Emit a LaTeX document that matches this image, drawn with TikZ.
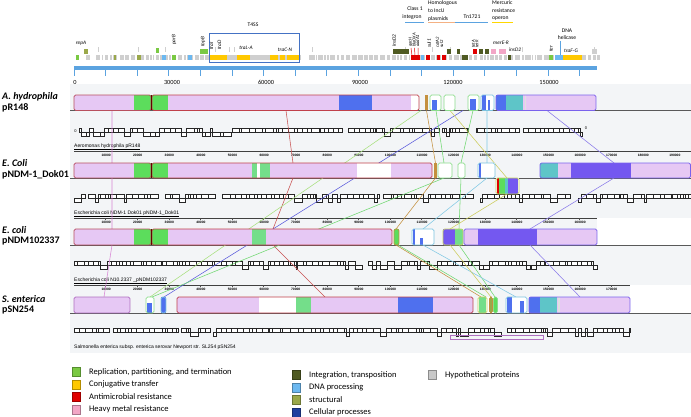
\documentclass[tikz,border=0pt]{standalone}
\usepackage{fontspec}
\setmainfont{Carlito}
\newfontfamily\libsans{Liberation Sans}
\definecolor{panelbg}{HTML}{F3F5F7}
\definecolor{lcbpink}{HTML}{E6C8F4}
\definecolor{lcbgreen}{HTML}{5CDD5C}
\definecolor{lcbgreenL}{HTML}{74DE8A}
\definecolor{lcbblue}{HTML}{4F70EE}
\definecolor{lcbpurple}{HTML}{7458F0}
\definecolor{lcbteal}{HTML}{5EC5C8}
\definecolor{lcbbrown}{HTML}{C4903E}
\definecolor{brdred}{HTML}{C0404A}
\definecolor{brdA}{HTML}{B8505E}
\definecolor{brdgreen}{HTML}{8CDC8C}
\definecolor{brdcyan}{HTML}{7CC4E0}
\definecolor{brdpurple}{HTML}{7A62EC}
\definecolor{brdyg}{HTML}{C8D060}
\definecolor{brdmag}{HTML}{B070C0}
\definecolor{lnmag}{HTML}{D884D4}
\definecolor{lnred}{HTML}{C85050}
\definecolor{lnpurple}{HTML}{8A7AEA}
\definecolor{lnblue}{HTML}{5A5ADC}
\definecolor{lnlgreen}{HTML}{A8E07E}
\definecolor{lngreen}{HTML}{70D870}
\definecolor{lncyan}{HTML}{80C8E4}
\definecolor{lnyg}{HTML}{CCCC5A}
\definecolor{lnbrown}{HTML}{C4903E}
\definecolor{axblue}{HTML}{5BA3E0}
\definecolor{boxblue}{HTML}{4472C4}
\definecolor{lgGreen}{HTML}{7AC943}
\definecolor{lgYellow}{HTML}{FFC800}
\definecolor{lgRed}{HTML}{E00000}
\definecolor{lgPink}{HTML}{F2A6C6}
\definecolor{lgDark}{HTML}{4F5A22}
\definecolor{lgLblue}{HTML}{6CB8F0}
\definecolor{lgOlive}{HTML}{9AA84A}
\definecolor{lgNavy}{HTML}{1F3F9F}
\definecolor{lgGray}{HTML}{C8C8C8}
\definecolor{mapgray}{HTML}{CFCFCF}
\definecolor{lnorange}{HTML}{F4B183}
\definecolor{lnyellow}{HTML}{FFD700}

\newcommand{\seg}[5]{\fill[#5] (#1,#3) rectangle (#2,#4);}
\newcommand{\generow}[3]{%
  \pgfmathsetmacro\gx{#2}%
  \loop
    \pgfmathsetmacro\gw{1.5+6.5*rnd}%
    \pgfmathsetmacro\gr{rnd}%
    \ifdim\gr pt<0.13pt
      \draw[genebox] (\gx,#1+1.5) rectangle ({min(\gx+\gw,#3)},#1+5.5);
    \else\ifdim\gr pt<0.17pt\else
      \draw[genebox] (\gx,#1-3) rectangle ({min(\gx+\gw,#3)},#1+1.5);
    \fi\fi
    \pgfmathsetmacro\gx{\gx+\gw}%
  \ifdim\gx pt<#3pt\repeat}
\newcommand{\mapgrayrow}[2]{%
  \pgfmathsetmacro\gx{#1}%
  \loop
    \pgfmathsetmacro\gw{1+4.5*rnd}%
    \pgfmathsetmacro\gr{rnd}%
    \fill[mapgray] (\gx,55.5) rectangle ({\gx+\gw},60);
    \ifdim\gr pt<0.12pt \draw[mapgray, line width=0.5pt] ({\gx+0.5*\gw},47.5) -- ++(0,5);\fi
    \ifdim\gr pt>0.85pt \pgfmathsetmacro\gg{4+5*rnd}\else\pgfmathsetmacro\gg{0.8+1.6*rnd}\fi
    \pgfmathsetmacro\gx{\gx+\gw+\gg}%
  \ifdim\gx pt<#2pt\repeat}

\tikzset{
  genebox/.style={draw=black!85, fill=white, line width=0.3pt},
  lcbbox/.style={draw=#1, line width=0.8pt, rounded corners=1.6pt},
  conn/.style={draw=#1, line width=0.55pt},
  gname/.style={font=\fontsize{10}{11}\selectfont\bfseries, anchor=west, inner sep=0},
  lgtext/.style={font=\fontsize{8.5}{9}\selectfont, anchor=west, inner sep=0},
  lgsq/.style={draw=#1!70!black, fill=#1, line width=0.4pt},
  rnum/.style={font=\libsans\bfseries\fontsize{3.3}{4}\selectfont, inner sep=0},
  desc/.style={font=\libsans\fontsize{5}{6}\selectfont, anchor=south west, inner sep=0},
  axnum/.style={font=\fontsize{6.3}{7}\selectfont, inner sep=0},
  glab/.style={font=\fontsize{5.3}{6}\selectfont\itshape, inner sep=0},
  glabr/.style={glab, rotate=90, anchor=west},
  annot/.style={font=\fontsize{5.6}{6}\selectfont, inner sep=0},
  rulerline/.style={draw=black!75, line width=0.5pt},
  baseline/.style={draw=black!65, line width=0.6pt},
}

\begin{document}
\begin{tikzpicture}[x=1pt,y=-1pt]
\useasboundingbox (0,0) rectangle (691,417);
\fill[white] (0,0) rectangle (691,417);
\pgfmathsetseed{11}

% ---------- panel backgrounds ----------
\fill[panelbg] (70,84) rectangle (691,218);
\fill[panelbg] (70,218) rectangle (597,245);
\fill[panelbg] (70,245) rectangle (691,285);
\fill[panelbg] (70,285) rectangle (630,313);
\fill[panelbg] (70,313) rectangle (691,353);

% ---------- top gene map ----------
\mapgrayrow{86}{598}
% colored genes (lower row)
\seg{75.5}{78.5}{55.5}{60}{lgGreen}
\seg{114}{116}{55.5}{60}{lgOlive}
\seg{137}{140.5}{55.5}{60}{lgOlive}
\seg{162}{165.5}{55.5}{60}{lgLblue}
\seg{172}{175.5}{55.5}{60}{lgGreen}
\seg{188}{192}{55.5}{60}{lgLblue}
\seg{209}{299}{55.5}{60}{mapgray}
\seg{209.5}{227}{55.5}{60}{lgYellow}
\seg{237}{250}{55.5}{60}{lgYellow}
\seg{270}{278}{55.5}{60}{lgYellow}
\seg{280}{285}{55.5}{60}{lgYellow}
\seg{287}{298.5}{55.5}{60}{lgYellow}
% upper row
\seg{84}{88}{49}{54.5}{lgOlive}
\seg{156}{159}{48}{53.5}{lgGreen}
\seg{200}{208}{49}{54.5}{lgGreen}
% right part
\seg{393}{409}{49}{54.5}{lgDark}
\seg{411}{419.5}{55.5}{60}{lgRed}
\seg{421}{424}{55.5}{60}{lgLblue}
\seg{426}{429.5}{55.5}{60}{lgRed}
\seg{437}{439.5}{55.5}{60}{lgRed}
\seg{442}{446}{55.5}{60}{lgRed}
\seg{447}{451}{49}{54.5}{lgDark}
\seg{457}{460}{49}{54.5}{lgDark}
\seg{462}{468}{55.5}{60}{lgDark}
\seg{473}{477}{49}{54.5}{lgRed}
\seg{479}{483}{49}{54.5}{lgDark}
\seg{485}{489}{49}{54.5}{lgDark}
\seg{491}{496}{49}{54.5}{lgPink}
\seg{499}{506}{49}{54.5}{lgPink}
\seg{508}{511}{55.5}{60}{lgDark}
\seg{549}{553}{55.5}{60}{lgGreen}
\seg{555}{563}{55.5}{60}{lgLblue}
\seg{563}{582}{55.5}{60}{lgYellow}
\seg{592}{597}{49}{54.5}{mapgray}
\draw[lgRed, line width=0.5pt] (411,48) -- (412,55.5) (414.5,48) -- (415,55.5) (418,48) -- (418,55.5);
\coordinate (dhtop) at (560,41); \coordinate (dhbot) at (560,55.5);
\draw[axblue, line width=0.6pt] (dhtop) -- (dhbot);

% T4SS box
\node[draw=boxblue, line width=0.9pt, minimum width=90pt, minimum height=29pt, inner sep=0, anchor=north west] (t4ssbox) at (209,33) {};
\node[annot] (t4ss) at (253,25) {T4SS};

% gene labels
\node[glab] (repA) at (81,43) {repA};
\node[glabr] (parB) at (174,45) {parB};
\node[glabr] (topB) at (203,47) {topB};
\node[glabr] (traI) at (211.5,50) {traI};
\node[glabr] (traD) at (219.5,50) {traD};
\node[glab] (traLA) at (246,48) {traL-A};
\node[glab] (traCN) at (285,50) {traC-N};
\node[glabr] (insDa) at (394,47) {insD2};
\node[glabr, font=\fontsize{4.6}{5}\selectfont\itshape] (qacH) at (410.5,47) {qacH};
\node[glabr, font=\fontsize{4.6}{5}\selectfont\itshape] (bla) at (414,47) {blaOXA};
\node[glabr, font=\fontsize{4.6}{5}\selectfont\itshape] (aadA) at (417.5,47) {aadA1};
\node[glabr] (sulA) at (429,48) {sul1};
\node[glabr, font=\fontsize{4.6}{5}\selectfont\itshape] (catA) at (437.5,48) {catA2};
\node[glabr, font=\fontsize{4.6}{5}\selectfont\itshape] (sulB) at (441.5,48) {sul2};
\node[glabr, font=\fontsize{4.6}{5}\selectfont\itshape] (tetA) at (473.5,48) {tetA};
\node[glabr, font=\fontsize{4.6}{5}\selectfont\itshape] (tetR) at (477,48) {tetR};
\node[glab] (merER) at (501,43) {merE-R};
\node[glab] (insDb) at (515,50) {insD2};
\node[glabr] (ter) at (551,52) {ter};
\node[annot] (dna) at (567,31) {DNA};
\node[annot] (helic) at (567,38) {helicase};
\node[glab] (traFG) at (571,51) {traF-G};

% annotation groups
\node[annot] (cls) at (415,9) {Class 1};
\node[annot] (intg) at (412,17) {integron};
\coordinate (ia) at (405,22); \coordinate (ib) at (424,22);
\draw[axblue, line width=0.8pt] (ia) -- (ib);
\node[annot, anchor=west] (homA) at (428,3) {Homologous};
\node[annot, anchor=west] (homB) at (428,11) {to IncU};
\node[annot, anchor=west] (homC) at (428,19) {plasmids};
\coordinate (ha) at (428,22.8); \coordinate (hb) at (458,22.8);
\draw[lnorange, line width=0.8pt] (ha) -- (hb);
\node[annot] (tn) at (472,17) {Tn1721};
\coordinate (ta) at (455,22); \coordinate (tb) at (488,22);
\draw[axblue, line width=0.8pt] (ta) -- (tb);
\node[annot, anchor=west] (merA) at (492,3) {Mercuric};
\node[annot, anchor=west] (merB) at (492,11) {resistance};
\node[annot, anchor=west] (merC) at (492,19) {operon};
\coordinate (ma) at (492,22.8); \coordinate (mb) at (513,22.8);
\draw[lnyellow, line width=0.8pt] (ma) -- (mb);

% axis
\coordinate (ax0) at (74,68); \coordinate (ax1) at (597,68);
\draw[axblue, line width=3.2pt] (ax0) -- (ax1);
\foreach \i in {0,...,16} \draw[axblue, line width=0.7pt] ({74+31.6*\i},68) -- ++(0,8);
\node[axnum] (a0) at (75,82) {0};
\node[axnum] (a30) at (172,82) {30000};
\node[axnum] (a60) at (266,82) {60000};
\node[axnum] (a90) at (360,82) {90000};
\node[axnum] (a120) at (453,82) {120000};
\node[axnum] (a150) at (549,82) {150000};

% ---------- rulers ----------
\draw[rulerline] (74,151) -- (691,151);
\foreach \k in {1,...,19} {\draw[black!70, line width=0.3pt] ({74+31.6*\k},151) -- ++(0,1.5);
  \node[rnum] at ({74.5+31.6*\k},155.5) {\k0000};}
\draw[rulerline] (74,218) -- (597,218);
\foreach \k in {1,...,16} {\draw[black!70, line width=0.3pt] ({74+31.6*\k},218) -- ++(0,1.5);
  \node[rnum] at ({74.5+31.6*\k},222.5) {\k0000};}
\draw[rulerline] (74,285) -- (630,285);
\foreach \k in {1,...,17} {\draw[black!70, line width=0.3pt] ({74+31.6*\k},285) -- ++(0,1.5);
  \node[rnum] at ({74.5+31.6*\k},289.5) {\k0000};}

\node[desc] (d1) at (74,150.3) {\underline{Aeromonas hydrophila pR148}};
\node[desc] (d2) at (74,217.3) {\underline{Escherichia coli NDM-1 Dok01 pNDM-1\_Dok01}};
\node[desc] (d3) at (74,284.3) {\underline{Escherichia coli N10.2337 \_pNDM102337}};
\node[desc] (d4) at (74,350) {Salmonella enterica subsp. enterica serovar Newport str. SL254 pSN254};

% ---------- gene rows ----------
\node[font=\libsans\fontsize{4}{4}\selectfont, inner sep=0] (z1) at (75.5,131) {0};
\node[font=\libsans\fontsize{4}{4}\selectfont, inner sep=0] (z2) at (586,128.5) {0};
\generow{131}{79}{582}
\generow{197}{74}{691}
\generow{264}{74}{597}
\generow{331}{74}{630}
\draw[brdmag, line width=0.6pt] (450,335) rectangle (543,339);

% ---------- baselines ----------
\draw[baseline] (70,110.5) -- (691,110.5);
\draw[baseline] (70,178) -- (691,178);
\draw[baseline] (70,245) -- (691,245);
\draw[baseline] (70,313) -- (691,313);

% ---------- connectors ----------
\coordinate (mg1) at (112,110.5); \coordinate (mg2) at (112,163); \coordinate (mg3) at (112,178);
\coordinate (mg4) at (112,229); \coordinate (mg5) at (112,245); \coordinate (mg6) at (104,297);
\draw[conn=lnmag] (mg1) -- (mg2) -- (mg3) -- (mg4) -- (mg5) -- (mg6);
\coordinate (rd1) at (286,110.5); \coordinate (rd2) at (293,163); \coordinate (rd3) at (293,178);
\coordinate (rd4) at (273,229); \coordinate (rd5) at (273,245); \coordinate (rd6) at (325,297);
\draw[conn=lnred] (rd1) -- (rd2) -- (rd3) -- (rd4) -- (rd5) -- (rd6);
\coordinate (pu1) at (547,110.5); \coordinate (pu2) at (614,163); \coordinate (pu3) at (614,178);
\coordinate (pu4) at (530,229); \coordinate (pu5) at (530,245); \coordinate (pu6) at (580,297);
\draw[conn=lnpurple] (pu1) -- (pu2) -- (pu3) -- (pu4) -- (pu5) -- (pu6);
\coordinate (bl1) at (463,110.5); \coordinate (bl2) at (164,297);
\draw[conn=lnblue] (bl1) -- (bl2);
\coordinate (lg1) at (421,110.5); \coordinate (lg2) at (150,297);
\draw[conn=lnlgreen] (lg1) -- (lg2);
\coordinate (gr1) at (436,110.5); \coordinate (gr2) at (444,163); \coordinate (gr3) at (444,178); \coordinate (gr4) at (152,297);
\draw[conn=lngreen] (gr1) -- (gr2) -- (gr3) -- (gr4);
\coordinate (br1) at (426.5,110.5); \coordinate (br2) at (435.5,163); \coordinate (br3) at (435.5,178);
\coordinate (br4) at (396,229); \coordinate (br5) at (396,245); \coordinate (br6) at (481,297);
\draw[conn=lnbrown] (br1) -- (br2) -- (br3) -- (br4) -- (br5) -- (br6);
\coordinate (g21) at (473,110.5); \coordinate (g22) at (461,163); \coordinate (g23) at (461,178);
\coordinate (g24) at (459,229); \coordinate (g25) at (459,245); \coordinate (g26) at (495,297);
\draw[conn=lngreen] (g21) -- (g22) -- (g23) -- (g24) -- (g25) -- (g26);
\coordinate (cy1) at (487,110.5); \coordinate (cy2) at (487,163); \coordinate (cy3) at (487,178);
\coordinate (cy4) at (423,229); \coordinate (cy5) at (423,245); \coordinate (cy6) at (516,297);
\draw[conn=lncyan] (cy1) -- (cy2) -- (cy3) -- (cy4) -- (cy5) -- (cy6);
\coordinate (yg1) at (450,110.5); \coordinate (yg2) at (507,178); \coordinate (yg3) at (507,194);
\coordinate (yg4) at (450,229); \coordinate (yg5) at (450,245); \coordinate (yg6) at (491,297);
\draw[conn=lnyg] (yg1) -- (yg2) -- (yg3) -- (yg4) -- (yg5) -- (yg6);
\coordinate (ol1) at (398,245); \coordinate (ol2) at (486,297);
\draw[conn=lngreen] (ol1) -- (ol2);

% ---------- LCB blocks: genome 1 (95-110.5) ----------
\seg{74}{134}{95}{110.5}{lcbpink}
\seg{134}{151}{95}{110.5}{lcbgreen}
\draw[lcbbox=brdA] (74,95) rectangle (151,110.5);
\seg{152}{168}{95}{110.5}{lcbgreen}
\seg{168}{339}{95}{110.5}{lcbpink}
\seg{339}{372}{95}{110.5}{lcbblue}
\seg{372}{411}{95}{110.5}{lcbpink}
\seg{411}{419}{95}{110.5}{white}
\draw[lcbbox=brdred] (152,95) rectangle (419,110.5);
\draw[black!60!red, line width=1pt] (151.5,95) -- (151.5,110.5);
\seg{425}{428}{95}{110.5}{lcbbrown}
\seg{430}{441}{95}{110.5}{white}
\seg{432}{437}{100}{110.5}{lcbblue}
\draw[lcbbox=brdgreen] (430,95) rectangle (441,110.5);
\seg{444}{455}{95}{110.5}{white}
\draw[lcbbox=brdgreen] (444,95) rectangle (455,110.5);
\seg{468}{479}{95}{110.5}{white}
\seg{470}{476}{99}{110.5}{lcbblue}
\draw[lcbbox=brdgreen] (468,95) rectangle (479,110.5);
\seg{481}{494}{95}{110.5}{white}
\seg{482}{486}{95}{110.5}{lcbblue}
\seg{488}{490}{100}{110.5}{lcbblue}
\draw[lcbbox=brdcyan] (481,95) rectangle (494,110.5);
\seg{496}{506}{95}{110.5}{lcbblue}
\seg{506}{523}{95}{110.5}{lcbteal}
\seg{523}{596}{95}{110.5}{lcbpink}
\seg{524.5}{526}{95}{110.5}{black!12}
\draw[lcbbox=brdpurple] (496,95) rectangle (596,110.5);

% ---------- genome 2 (163-178) ----------
\seg{74}{134}{163}{178}{lcbpink}
\seg{134}{151}{163}{178}{lcbgreen}
\draw[lcbbox=brdA] (74,163) rectangle (151,178);
\seg{152}{168}{163}{178}{lcbgreen}
\seg{168}{252}{163}{178}{lcbpink}
\seg{252}{257}{163}{178}{lcbgreenL}
\seg{257}{260}{163}{178}{white}
\seg{260}{270}{163}{178}{lcbgreenL}
\seg{270}{357}{163}{178}{lcbpink}
\seg{357}{391}{163}{178}{white}
\seg{391}{432}{163}{178}{lcbpink}
\draw[lcbbox=brdred] (152,163) rectangle (432,178);
\draw[black!60!red, line width=1pt] (151.5,163) -- (151.5,178);
\seg{434}{437}{163}{178}{lcbbrown}
\seg{438}{452}{163}{178}{white}
\draw[lcbbox=brdgreen] (438,163) rectangle (452,178);
\seg{458}{465}{163}{178}{white}
\draw[lcbbox=brdgreen] (458,163) rectangle (465,178);
\seg{478}{495}{163}{178}{white}
\seg{478.5}{481}{163}{178}{lcbblue}
\draw[lcbbox=brdcyan] (478,163) rectangle (495,178);
\seg{540}{558}{163}{178}{lcbteal}
\seg{558}{571}{163}{178}{lcbpink}
\seg{571}{631}{163}{178}{lcbpurple}
\seg{631}{691}{163}{178}{lcbpink}
\draw[lcbbox=brdpurple] (540,163) rectangle (690.5,178);
% inverted block
\seg{496}{519}{178}{194}{white}
\seg{497}{499}{178}{194}{lgRed}
\seg{499}{505}{178}{194}{lcbgreen}
\seg{505}{508}{178}{194}{lcbteal}
\seg{508}{518}{178}{194}{lcbpurple}
\draw[lcbbox=brdyg] (496,178) rectangle (519,194);

% ---------- genome 3 (229-245) ----------
\seg{74}{134}{229}{245}{lcbpink}
\seg{134}{151}{229}{245}{lcbgreen}
\draw[lcbbox=brdA] (74,229) rectangle (151,245);
\seg{152}{168}{229}{245}{lcbgreen}
\seg{168}{252}{229}{245}{lcbpink}
\seg{252}{266}{229}{245}{lcbgreenL}
\seg{266}{392}{229}{245}{lcbpink}
\draw[lcbbox=brdred] (152,229) rectangle (392,245);
\draw[black!60!red, line width=1pt] (151.5,229) -- (151.5,245);
\seg{394}{399}{229}{245}{lcbgreen}
\draw[lcbbox=lcbbrown] (394,229) rectangle (399,245);
\seg{412}{434}{229}{245}{white}
\seg{412.5}{415}{229}{245}{lcbblue}
\seg{420}{423}{238}{245}{lcbblue}
\draw[lcbbox=brdcyan] (412,229) rectangle (434,245);
\seg{443}{455}{229}{245}{lcbpurple}
\seg{455}{463}{229}{245}{lcbgreenL}
\draw[lcbbox=brdyg] (443,229) rectangle (463,245);
\seg{464}{478}{229}{245}{lcbpink}
\seg{478}{537}{229}{245}{lcbpurple}
\seg{537}{597}{229}{245}{lcbpink}
\draw[lcbbox=brdpurple] (464,229) rectangle (597,245);

% ---------- genome 4 (297-313) ----------
\seg{74}{130}{297}{313}{lcbpink}
\draw[lcbbox=brdmag] (74,297) rectangle (130,313);
\seg{146}{154}{297}{313}{white}
\seg{147}{152}{303}{313}{lcbblue}
\draw[lcbbox=brdgreen] (146,297) rectangle (154,313);
\seg{161}{166}{297}{313}{lcbblue}
\draw[lcbbox=brdcyan] (161,297) rectangle (166,313);
\seg{177}{259}{297}{313}{lcbpink}
\seg{259}{296}{297}{313}{white}
\seg{296}{311}{297}{313}{lcbgreenL}
\seg{311}{398}{297}{313}{lcbpink}
\seg{398}{433}{297}{313}{lcbblue}
\seg{433}{473}{297}{313}{lcbpink}
\draw[lcbbox=brdred] (177,297) rectangle (473,313);
\seg{478}{497}{297}{313}{white}
\seg{479}{486}{297}{313}{lcbgreenL}
\seg{490}{492}{297}{313}{lgOlive}
\seg{494}{497}{297}{313}{lcbgreen}
\draw[lcbbox=brdyg] (478,297) rectangle (487,313);
\draw[lcbbox=lcbbrown] (489.5,297) rectangle (492.5,313);
\draw[lcbbox=brdgreen] (493.5,297) rectangle (497.5,313);
\seg{506}{527}{297}{313}{white}
\seg{507}{512}{297}{313}{lcbblue}
\seg{520}{524}{301}{313}{lcbblue}
\draw[lcbbox=brdcyan] (506,297) rectangle (527,313);
\seg{529}{540}{297}{313}{lcbblue}
\seg{540}{557}{297}{313}{lcbteal}
\seg{557}{630}{297}{313}{lcbpink}
\seg{558}{559.5}{297}{313}{black!12}
\draw[lcbbox=brdpurple] (529,297) rectangle (630,313);

% ---------- genome names ----------
\node[gname] (n1a) at (2,97) {\itshape A. hydrophila};
\node[gname] (n1b) at (2,108) {pR148};
\node[gname] (n2a) at (2,163.5) {\itshape E. Coli};
\node[gname] (n2b) at (2,174.5) {pNDM-1\_Dok01};
\node[gname] (n3a) at (2,230) {\itshape E. coli};
\node[gname] (n3b) at (2,241.5) {pNDM102337};
\node[gname] (n4a) at (2,299) {\itshape S. enterica};
\node[gname] (n4b) at (2,310) {pSN254};

% ---------- legend ----------
\node[lgsq=lgGreen, minimum width=8pt, minimum height=9pt, inner sep=0] (q1) at (76,372) {};
\node[lgtext] (t1) at (89,372) {Replication, partitioning, and termination};
\node[lgsq=lgYellow, minimum width=8pt, minimum height=9pt, inner sep=0] (q2) at (76,384.5) {};
\node[lgtext] (t2) at (89,384.5) {Conjugative transfer};
\node[lgsq=lgRed, minimum width=8pt, minimum height=9pt, inner sep=0] (q3) at (76,397) {};
\node[lgtext] (t3) at (89,397) {Antimicrobial resistance};
\node[lgsq=lgPink, minimum width=8pt, minimum height=9pt, inner sep=0] (q4) at (76,409.5) {};
\node[lgtext] (t4) at (89,409.5) {Heavy metal resistance};
\node[lgsq=lgDark, minimum width=8pt, minimum height=9pt, inner sep=0] (q5) at (296,375) {};
\node[lgtext] (t5) at (309,375) {Integration, transposition};
\node[lgsq=lgLblue, minimum width=8pt, minimum height=9pt, inner sep=0] (q6) at (296,387.5) {};
\node[lgtext] (t6) at (309,387.5) {DNA processing};
\node[lgsq=lgOlive, minimum width=8pt, minimum height=9pt, inner sep=0] (q7) at (296,400) {};
\node[lgtext] (t7) at (309,400) {structural};
\node[lgsq=lgNavy, minimum width=8pt, minimum height=9pt, inner sep=0] (q8) at (296,412.5) {};
\node[lgtext] (t8) at (309,412.5) {Cellular processes};
\node[lgsq=lgGray, minimum width=8pt, minimum height=9pt, inner sep=0] (q9) at (432,375) {};
\node[lgtext] (t9) at (445,375) {Hypothetical proteins};
\end{tikzpicture}
\end{document}
